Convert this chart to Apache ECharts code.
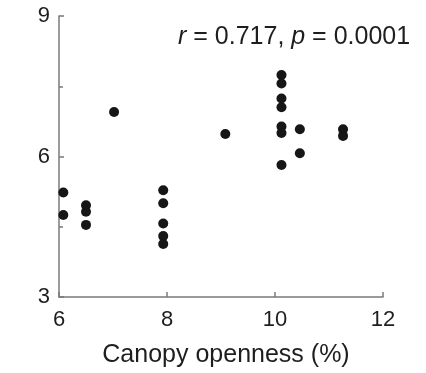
<!DOCTYPE html>
<html>
<head>
<meta charset="utf-8">
<script src="https://cdn.jsdelivr.net/npm/echarts@6/dist/echarts.min.js"></script>
<style>
    html, body { margin: 0; padding: 0; background: #fff; }
    #scatter { width: 426px; height: 373px; }
</style>
</head>
<body>
<div id="scatter"></div>
<script>
    // canopy openness (%) and the measured value, one entry per point
    let openness = [6.08, 6.08, 6.5, 6.5, 6.5, 7.02, 7.93, 7.93, 7.93, 7.93, 7.93,
        9.08, 10.12, 10.12, 10.12, 10.12, 10.12, 10.12, 10.12, 10.46, 10.46, 11.26, 11.26]
    let values = [5.23, 4.75, 4.96, 4.82, 4.54, 6.95, 5.28, 5.0, 4.57, 4.3, 4.13,
        6.48, 7.74, 7.56, 7.24, 7.05, 6.64, 6.5, 5.82, 6.58, 6.07, 6.58, 6.44]
    let xTicks = [6, 8, 10, 12]
    let yTicks = [3, 6, 9]
    let statText = ['0.717', '0.0001']

    let font = 'Liberation Sans, Arial, sans-serif'
    let axisColor = '#7a7a7a'
    let textColor = '#1e1e1e'
    let chart = echarts.init(document.getElementById('scatter'))
    chart.setOption({
        animation: false,
        title: {
            text: '{i|r} = ' + statText[0] + ', {i|p} = ' + statText[1],
            left: 178,
            top: 25,
            padding: 0,
            textStyle: {
                fontFamily: font,
                fontSize: 25,
                fontWeight: 'normal',
                color: textColor,
                rich: {
                    i: { fontFamily: font, fontSize: 25, fontStyle: 'italic', color: textColor }
                }
            }
        },
        grid: { left: 59, right: 43, top: 16, bottom: 76 },
        xAxis: {
            type: 'value',
            min: xTicks[0],
            max: xTicks[xTicks.length - 1],
            interval: 2,
            name: 'Canopy openness (%)',
            nameLocation: 'middle',
            nameGap: 46,
            nameTextStyle: { fontFamily: font, fontSize: 25, color: textColor, padding: [0, 0, 0, 10] },
            axisLine: { lineStyle: { color: axisColor, width: 1.5 } },
            axisTick: { inside: true, length: 5, lineStyle: { color: axisColor, width: 1.5 } },
            axisLabel: { fontFamily: font, fontSize: 22, color: textColor, margin: 12 },
            splitLine: { show: false }
        },
        yAxis: {
            type: 'value',
            min: yTicks[0],
            max: yTicks[yTicks.length - 1],
            interval: 3,
            axisLine: { show: true, lineStyle: { color: axisColor, width: 1.5 } },
            axisTick: { show: true, inside: true, length: 5, lineStyle: { color: axisColor, width: 1.5 } },
            minorTick: { show: true, splitNumber: 2, length: 4, lineStyle: { color: axisColor, width: 1.5 } },
            axisLabel: { fontFamily: font, fontSize: 22, color: textColor, margin: 9, padding: [8, 0, 0, 0] },
            splitLine: { show: false }
        },
        series: [{
            type: 'scatter',
            symbolSize: 10,
            itemStyle: { color: '#161616', opacity: 1 },
            data: openness.map((x, i) => [x, values[i]])
        }]
    })
</script>
</body>
</html>
